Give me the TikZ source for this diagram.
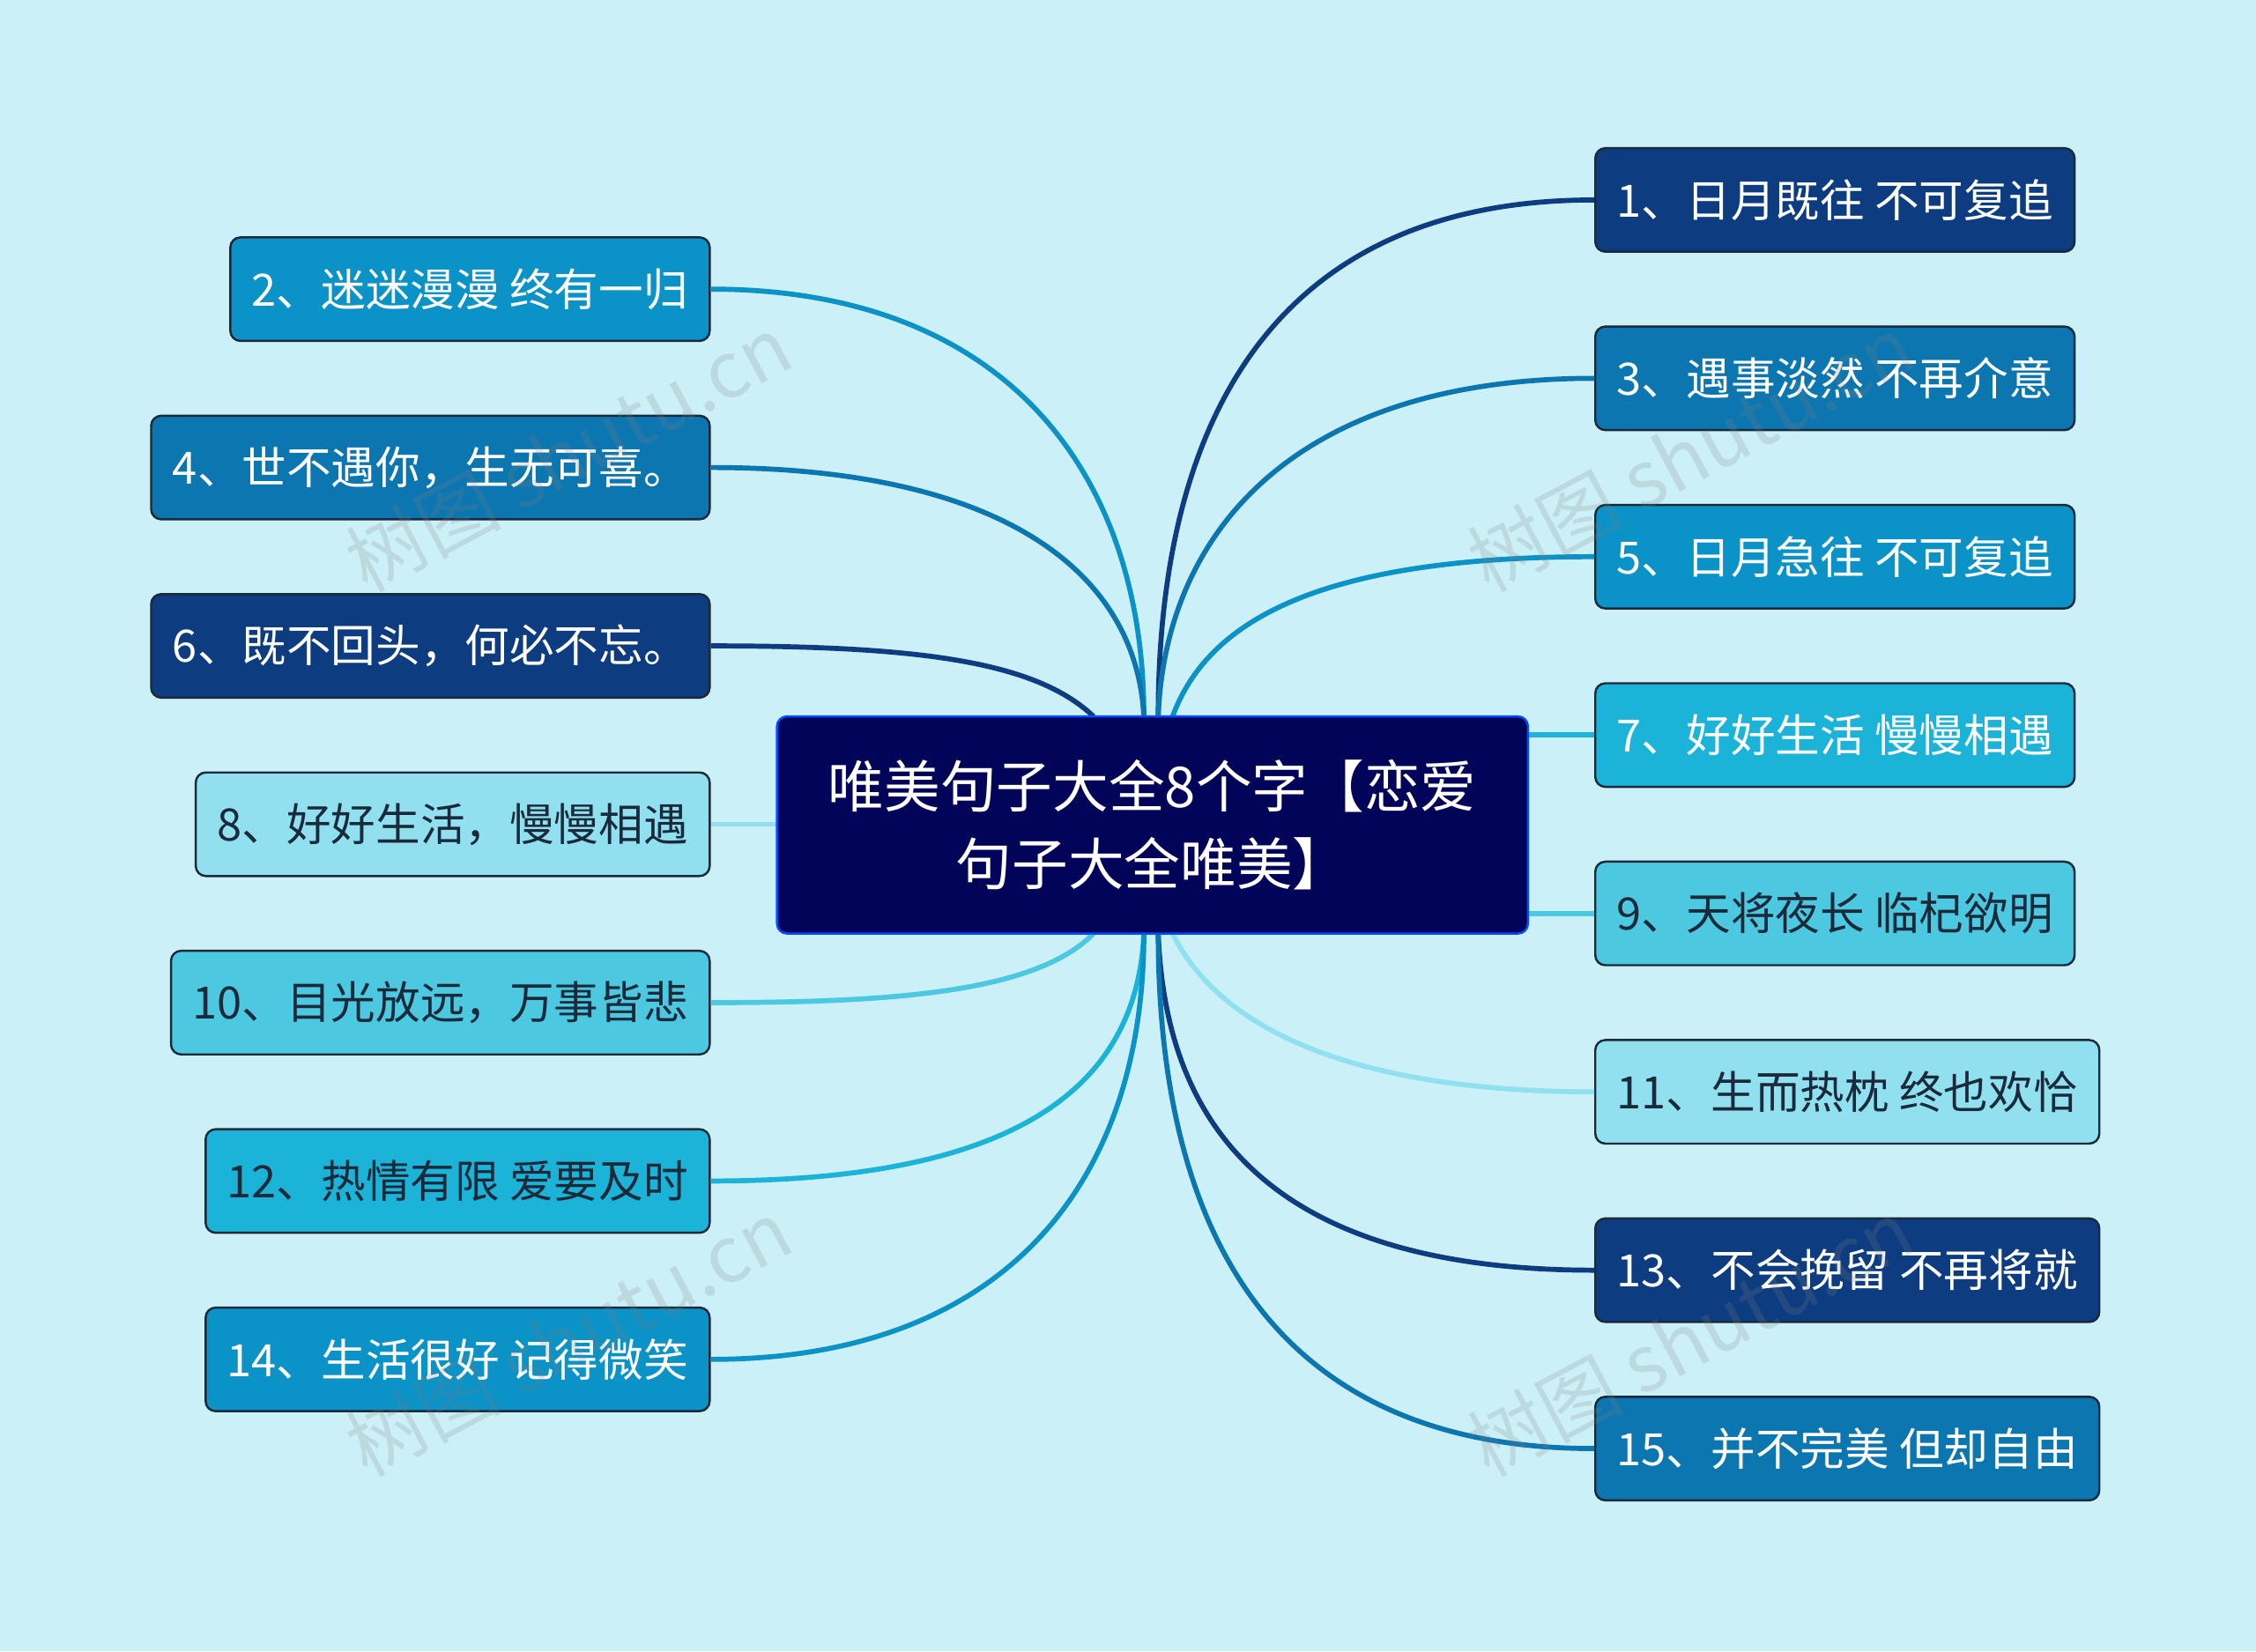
\documentclass[tikz,border=0pt]{standalone}
\usepackage{fontspec}
\setmainfont{Noto Sans CJK SC}
\definecolor{bg}{HTML}{CCF0F7}
\definecolor{cA}{HTML}{0D3D80}
\definecolor{cB}{HTML}{0C76B0}
\definecolor{cC}{HTML}{0B92C6}
\definecolor{cD}{HTML}{1CB3D8}
\definecolor{cE}{HTML}{4CC8E0}
\definecolor{cF}{HTML}{90E0EF}
\definecolor{cM}{HTML}{02045A}
\definecolor{dk}{HTML}{1A2A3A}
\begin{document}
\begin{tikzpicture}[x=1pt,y=-1pt,
 box/.style={draw=dk,line width=1.5pt,rounded corners=7pt,minimum height=72pt,inner xsep=15pt,font=\fontsize{31}{34}\selectfont},
 lt/.style={box,text=white},
 dt/.style={box,text=dk},
 ln/.style={line width=3.5pt},
 wm/.style={text=gray,opacity=0.2,rotate=28,font=\fontsize{54}{58}\selectfont}]
\fill[bg] (0,0) rectangle (1568,1148);
\useasboundingbox (0,0) rectangle (1568,1148);
\coordinate (t1) at (805,498); \coordinate (t2) at (795,498); \coordinate (t3) at (760,498);
\coordinate (b1) at (805,649); \coordinate (b2) at (795,649); \coordinate (b3) at (760,649); \coordinate (b4) at (815,649);
\coordinate (t4) at (815,498);
% right nodes
\node[lt,fill=cA,anchor=west] (n1) at (1108,139) {1、日月既往 不可复追};
\node[lt,fill=cB,anchor=west] (n3) at (1108,263) {3、遇事淡然 不再介意};
\node[lt,fill=cC,anchor=west] (n5) at (1108,387) {5、日月急往 不可复追};
\node[lt,fill=cD,anchor=west] (n7) at (1108,511) {7、好好生活 慢慢相遇};
\node[dt,fill=cE,anchor=west] (n9) at (1108,635) {9、天将夜长 临杞欲明};
\node[dt,fill=cF,anchor=west] (n11) at (1108,759) {11、生而热枕 终也欢恰};
\node[lt,fill=cA,anchor=west] (n13) at (1108,883) {13、不会挽留 不再将就};
\node[lt,fill=cB,anchor=west] (n15) at (1108,1007) {15、并不完美 但却自由};
% left nodes
\node[lt,fill=cC,anchor=east] (n2) at (494,201) {2、迷迷漫漫 终有一归};
\node[lt,fill=cB,anchor=east] (n4) at (494,325) {4、世不遇你，生无可喜。};
\node[lt,fill=cA,anchor=east] (n6) at (494,449) {6、既不回头，何必不忘。};
\node[dt,fill=cF,anchor=east] (n8) at (494,573) {8、好好生活，慢慢相遇};
\node[dt,fill=cE,anchor=east] (n10) at (494,697) {10、目光放远，万事皆悲};
\node[dt,fill=cD,anchor=east] (n12) at (494,821) {12、热情有限 爱要及时};
\node[lt,fill=cC,anchor=east] (n14) at (494,945) {14、生活很好 记得微笑};
% edges
\draw[ln,cA] (t1) .. controls (805,300) and (880,139) .. (n1.west);
\draw[ln,cB] (t1) .. controls (810,370) and (900,263) .. (n3.west);
\draw[ln,cC] (t4) .. controls (840,430) and (920,387) .. (n5.west);
\draw[ln,cD] (1062,511) -- (n7.west);
\draw[ln,cE] (1062,635) -- (n9.west);
\draw[ln,cF] (b4) .. controls (850,720) and (950,759) .. (n11.west);
\draw[ln,cA] (b1) .. controls (810,780) and (880,883) .. (n13.west);
\draw[ln,cB] (b1) .. controls (805,850) and (880,1007) .. (n15.west);
\draw[ln,cC] (t2) .. controls (795,330) and (700,201) .. (n2.east);
\draw[ln,cB] (t2) .. controls (790,400) and (700,325) .. (n4.east);
\draw[ln,cA] (t3) .. controls (720,460) and (640,449) .. (n6.east);
\draw[ln,cF] (540,573) -- (n8.east);
\draw[ln,cE] (b3) .. controls (720,690) and (620,697) .. (n10.east);
\draw[ln,cD] (b2) .. controls (790,760) and (700,821) .. (n12.east);
\draw[ln,cC] (b2) .. controls (795,820) and (700,945) .. (n14.east);
% center
\node[draw=blue!70!cyan,line width=1.5pt,fill=cM,rounded corners=7pt,text=white,minimum width=522pt,minimum height=151pt,align=center,font=\fontsize{39}{54}\selectfont] (c) at (801,573.5) {唯美句子大全8个字【恋爱\\句子大全唯美】};
% watermarks
\node[wm] (w1) at (395,315) {树图 shutu.cn};
\node[wm] (w2) at (395,930) {树图 shutu.cn};
\node[wm] (w3) at (1175,315) {树图 shutu.cn};
\node[wm] (w4) at (1175,930) {树图 shutu.cn};
\end{tikzpicture}
\end{document}
